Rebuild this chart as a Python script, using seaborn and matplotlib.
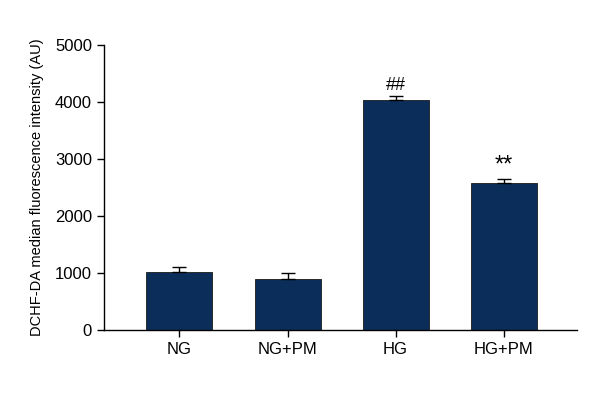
import matplotlib
matplotlib.use("Agg")
import matplotlib.pyplot as plt
import seaborn as sns

# Data
groups = ["NG", "NG+PM", "HG", "HG+PM"]
means = [1020, 900, 4030, 2575]
errs = [85, 95, 70, 75]
marks = ["", "", "##", "**"]
mark_sizes = [13, 13, 13, 17]

sns.set_style("ticks")
plt.rcParams["font.family"] = ["Liberation Sans", "DejaVu Sans"]
plt.rcParams["text.color"] = "black"
plt.rcParams["axes.labelcolor"] = "black"
plt.rcParams["xtick.color"] = "black"
plt.rcParams["ytick.color"] = "black"
plt.rcParams["axes.edgecolor"] = "black"

fig = plt.figure(figsize=(6, 4), dpi=100)
ax = fig.add_axes([0.173, 0.175, 0.789, 0.7125])

sns.barplot(x=groups, y=means, color="#0b2d5a", saturation=1, width=0.61,
            edgecolor="#1a1a1a", linewidth=0.6, errorbar=None, ax=ax)
ax.errorbar(range(len(groups)), means, yerr=[[0] * len(errs), errs],
            fmt="none", ecolor="black", elinewidth=1.0, capsize=5, capthick=1.0)

# significance marks above the error bars
for i, (m, e, t, fs) in enumerate(zip(means, errs, marks, mark_sizes)):
    if t:
        ax.text(i, m + e + 40, t, ha="center", va="bottom", fontsize=fs)

ax.set_ylim(0, 5000)
ax.set_xlim(-0.70, 3.68)
ax.set_yticks(range(0, 5001, 1000))
ax.set_ylabel("DCHF-DA median fluorescence intensity (AU)", fontsize=10.5, labelpad=8)
ax.tick_params(axis="both", labelsize=12, width=1, length=5)
sns.despine(ax=ax)
for s in ["left", "bottom"]:
    ax.spines[s].set_linewidth(1)

fig.savefig("out.png", dpi=100)
